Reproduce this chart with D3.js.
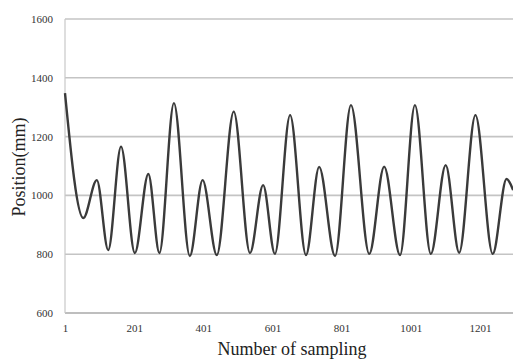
<!DOCTYPE html>
<html><head><meta charset="utf-8">
<script src="https://cdn.jsdelivr.net/npm/d3@7"></script>
<style>body{margin:0;background:#fff}svg{display:block}</style>
</head><body>
<svg id="c" width="513" height="359"></svg>
<script>
// Sample index at each turning point of the trace
const samples = [1, 54, 93, 126, 163, 203, 242, 274, 316, 362, 399, 440, 489, 536, 574, 608, 652, 698, 736, 782, 828, 881, 924, 970, 1013, 1059, 1102, 1141, 1188, 1238, 1278, 1297];
// Position (mm) at those points
const positions = [1348, 923, 1052, 814, 1166, 804, 1073, 804, 1314, 794, 1052, 797, 1285, 804, 1035, 801, 1273, 797, 1097, 794, 1307, 801, 1098, 797, 1307, 801, 1103, 805, 1273, 801, 1056, 1018];
const yTicks = [600, 800, 1000, 1200, 1400, 1600];
const xTicks = [1, 201, 401, 601, 801, 1001, 1201];

const svg = d3.select("#c");
const x = d3.scaleLinear().domain([1, 1301]).range([65, 514.5]);
const y = d3.scaleLinear().domain([600, 1600]).range([313, 19]);

// gridlines
svg.append("g").selectAll("line").data(yTicks).join("line")
  .attr("x1", 65).attr("x2", 513)
  .attr("y1", d => y(d)).attr("y2", d => y(d))
  .attr("stroke", d => d === 600 ? "#a8a8a8" : "#c4c4c4")
  .attr("stroke-width", 1.6);
// left axis line
svg.append("line").attr("x1", 65).attr("x2", 65).attr("y1", y(1600)).attr("y2", y(600))
  .attr("stroke", "#c8c8c8").attr("stroke-width", 1.2);

// y axis labels
const yAxis = d3.axisLeft(y).tickValues(yTicks).tickFormat(d3.format("d")).tickSize(0).tickPadding(12);
const gy = svg.append("g").attr("transform", "translate(65,0)").call(yAxis);
gy.select(".domain").remove();
gy.selectAll("text").attr("font-family", "Liberation Serif, serif").attr("font-size", 11).attr("fill", "#333");

// x axis labels
const xAxis = d3.axisBottom(x).tickValues(xTicks).tickFormat(d3.format("d")).tickSize(0).tickPadding(11);
const gx = svg.append("g").attr("transform", `translate(0,${y(600)})`).call(xAxis);
gx.select(".domain").remove();
gx.selectAll("text").attr("font-family", "Liberation Serif, serif").attr("font-size", 11).attr("fill", "#333");

// line
const data = samples.map((s, i) => ({s, v: positions[i]}));
svg.append("path").datum(data)
  .attr("fill", "none").attr("stroke", "#3a3a3a").attr("stroke-width", 2.4)
  .attr("d", d3.line().x(d => x(d.s)).y(d => y(d.v)).curve(d3.curveMonotoneX));

// titles
svg.append("text").attr("x", 292).attr("y", 355).attr("text-anchor", "middle")
  .attr("font-family", "Liberation Serif, serif").attr("font-size", 18).attr("fill", "#222")
  .text("Number of sampling");
svg.append("text").attr("transform", "translate(25,167) rotate(-90)").attr("text-anchor", "middle")
  .attr("font-family", "Liberation Serif, serif").attr("font-size", 18).attr("fill", "#222")
  .text("Position(mm)");
</script>
</body></html>
